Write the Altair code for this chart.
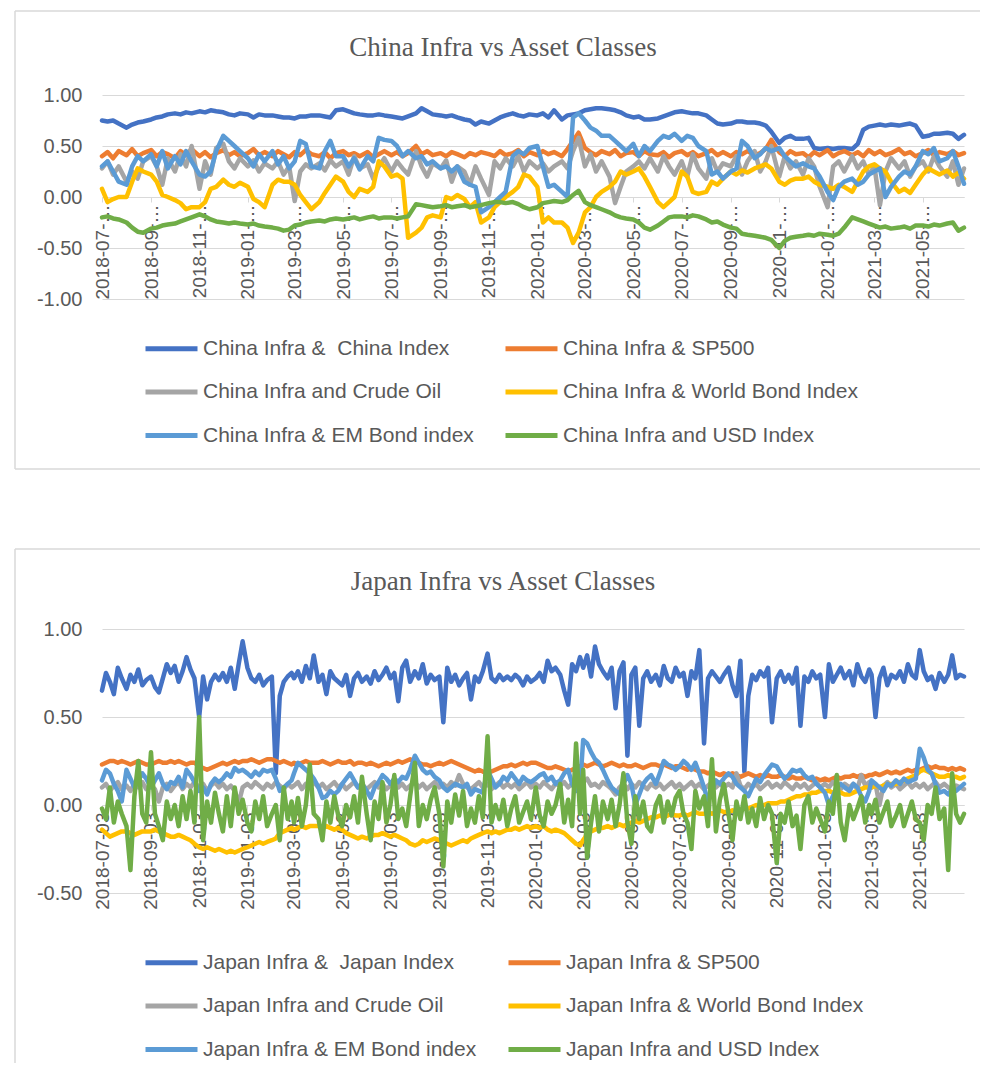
import altair as alt
import pandas as pd

# ---------------------------------------------------------------- categories
MONTHS = [(2018 + (6 + i) // 12, (6 + i) % 12 + 1) for i in range(36)]  # 2018-07 .. 2021-06
CHINA_DAYS = [3, 10, 17, 24]
JAPAN_DAYS = [3, 8, 13, 18, 23, 28]

CHINA_NAMES = ["China Infra &\u00a0 China Index", "China Infra & SP500", "China Infra and Crude Oil",
               "China Infra & World Bond Index", "China Infra & EM Bond index", "China Infra and USD Index"]
JAPAN_NAMES = ["Japan Infra &\u00a0 Japan Index", "Japan Infra & SP500", "Japan Infra and Crude Oil",
               "Japan Infra & World Bond Index", "Japan Infra & EM Bond index", "Japan Infra and USD Index"]
COLORS = ["#4472C4", "#ED7D31", "#A5A5A5", "#FFC000", "#5B9BD5", "#70AD47"]

# ---------------------------------------------------------------- China series (4 per month)
C_INDEX = [
    0.75, 0.74, 0.75, 0.72,  0.68, 0.71, 0.73, 0.74,  0.76, 0.78, 0.79, 0.81,
    0.82, 0.81, 0.83, 0.82,  0.84, 0.83, 0.85, 0.84,  0.83, 0.81, 0.80, 0.82,
    0.81, 0.78, 0.81, 0.80,  0.80, 0.79, 0.78, 0.78,  0.77, 0.79, 0.79, 0.80,
    0.80, 0.79, 0.78, 0.85,  0.86, 0.84, 0.82, 0.81,  0.80, 0.80, 0.81, 0.80,
    0.79, 0.78, 0.77, 0.79,  0.82, 0.87, 0.84, 0.81,  0.80, 0.79, 0.80, 0.78,
    0.76, 0.75, 0.71, 0.74,  0.72, 0.75, 0.78, 0.80,  0.82, 0.80, 0.79, 0.81,
    0.80, 0.82, 0.78, 0.85,  0.76, 0.80, 0.81, 0.82,  0.85, 0.86, 0.87, 0.87,
    0.86, 0.85, 0.83, 0.80,  0.78, 0.79, 0.76, 0.76,  0.77, 0.79, 0.81, 0.83,
    0.84, 0.83, 0.82, 0.82,  0.80, 0.76, 0.72, 0.71,  0.72, 0.74, 0.74, 0.73,
    0.73, 0.72, 0.70, 0.64,  0.53, 0.58, 0.60, 0.57,  0.57, 0.58, 0.48, 0.47,
    0.48, 0.47, 0.48, 0.48,  0.47, 0.52, 0.66, 0.69,  0.70, 0.71, 0.70, 0.71,
    0.70, 0.71, 0.72, 0.70,  0.59, 0.60, 0.62, 0.62,  0.63, 0.62, 0.57, 0.61,
]
C_SP500 = [
    0.40, 0.44, 0.38, 0.45,  0.41, 0.47, 0.40, 0.43,  0.46, 0.40, 0.44, 0.42,
    0.38, 0.45, 0.41, 0.47,  0.40, 0.44, 0.39, 0.43,  0.46, 0.41, 0.44, 0.40,
    0.43, 0.47, 0.41, 0.44,  0.40, 0.45, 0.42, 0.39,  0.44, 0.41, 0.46, 0.42,
    0.40, 0.44, 0.38, 0.43,  0.45, 0.41, 0.43, 0.40,  0.44, 0.39, 0.42, 0.45,
    0.41, 0.44, 0.40, 0.43,  0.50, 0.42, 0.45, 0.41,  0.43, 0.40, 0.44, 0.42,
    0.39, 0.43, 0.41, 0.44,  0.42, 0.40, 0.45, 0.41,  0.43, 0.46, 0.40, 0.44,
    0.41, 0.45, 0.42, 0.44,  0.40, 0.47, 0.55, 0.63,  0.48, 0.44, 0.41, 0.45,
    0.42, 0.46, 0.40, 0.43,  0.44, 0.40, 0.45, 0.42,  0.41, 0.44, 0.39, 0.43,
    0.45, 0.41, 0.44, 0.40,  0.43, 0.46, 0.41, 0.44,  0.40, 0.44, 0.42, 0.45,
    0.41, 0.43, 0.47, 0.56,  0.44, 0.40, 0.45, 0.42,  0.43, 0.39, 0.44, 0.41,
    0.46, 0.40, 0.43, 0.45,  0.41, 0.44, 0.40, 0.46,  0.42, 0.45, 0.41, 0.43,
    0.47, 0.42, 0.44, 0.40,  0.43, 0.46, 0.41, 0.44,  0.42, 0.45, 0.41, 0.43,
]
C_OIL = [
    0.28, 0.35, 0.22, 0.30,  0.15, 0.25, 0.18, 0.35,  0.40, 0.30, 0.12, 0.38,
    0.25, 0.42, 0.30, 0.50,  0.08, 0.35, 0.22, 0.48,  0.52, 0.35, 0.28, 0.38,
    0.30, 0.36, 0.25, 0.33,  0.28, 0.35, 0.22, 0.30, -0.04, 0.25, 0.32, 0.28,
    0.33, 0.26, 0.36, 0.30,  0.35, 0.22, 0.40, 0.28,  0.32, 0.18, 0.30, 0.38,
    0.25, 0.35, 0.28, 0.22,  0.45, 0.30, 0.20, 0.33,  0.28, 0.36, 0.15, 0.30,
    0.25, 0.12, 0.30, 0.18,  0.02, 0.35, 0.28, 0.38,  0.30, 0.40, 0.25, 0.35,
    0.28, 0.33, 0.25, 0.30,  0.35, 0.28, 0.45, 0.58,  0.30, 0.42, 0.25, 0.35,
    0.20, -0.06, 0.10, 0.25, 0.30, 0.35, 0.28, 0.38,  0.25, 0.40, 0.30, 0.22,
    0.35, 0.20, 0.42, 0.28,  0.18, 0.38, 0.25, 0.33,  0.30, 0.40, 0.22, 0.35,
    0.45, 0.25, 0.35, 0.50,  0.20, 0.40, 0.28, 0.35,  0.22, 0.38, 0.30, 0.10,
   -0.10, 0.30, 0.35, 0.25,  0.40, 0.28, 0.35, 0.22,  0.30, -0.08, 0.25, 0.38,
    0.28, 0.35, 0.20, 0.30,  0.35, 0.25, 0.40, 0.30,  0.20, 0.35, 0.12, 0.28,
]
C_BOND = [
    0.08, -0.05, -0.02, 0.00,  0.00, 0.15, 0.28, 0.25,  0.22, 0.15, 0.02, 0.00,
   -0.03, -0.06, -0.12, -0.10, -0.10, -0.05, 0.08, 0.10, 0.17, 0.12, 0.10, 0.14,
    0.10, -0.02, -0.05, -0.10, 0.12, 0.17, 0.15, 0.15,  0.12, 0.02, -0.05, -0.12,
   -0.05, 0.04, 0.12, 0.20,  0.15, 0.05, 0.00, 0.08,  0.05, 0.10, 0.35, 0.30,
    0.20, 0.22, 0.18, -0.40, -0.35, -0.30, -0.20, -0.18, -0.20, 0.00, -0.02, 0.02,
   -0.02, -0.10, -0.05, -0.25, -0.20, -0.10, -0.05, 0.00, 0.05, 0.10, 0.22, 0.20,
    0.10, -0.25, -0.20, -0.25, -0.25, -0.30, -0.45, -0.35, -0.15, -0.10, 0.00, 0.05,
    0.10, 0.15, 0.25, 0.22,  0.25, 0.28, 0.20, 0.10, -0.05, -0.10, -0.05, 0.00,
    0.25, 0.20, 0.05, 0.03,  0.05, 0.15, 0.12, 0.18,  0.25, 0.22, 0.26, 0.24,
    0.28, 0.30, 0.32, 0.28,  0.15, 0.12, 0.16, 0.18,  0.18, 0.20, 0.15, 0.12,
    0.10, 0.08, 0.12, 0.10,  0.05, 0.15, 0.25, 0.30,  0.32, 0.28, 0.25, 0.15,
    0.05, 0.08, 0.04, 0.12,  0.22, 0.28, 0.25, 0.22,  0.26, 0.20, 0.24, 0.18,
]
C_EM = [
    0.30, 0.35, 0.25, 0.15,  0.12, 0.30, 0.40, 0.35,  0.42, 0.30, 0.45, 0.28,
    0.40, 0.32, 0.45, 0.35,  0.22, 0.20, 0.25, 0.45,  0.60, 0.55, 0.50, 0.45,
    0.38, 0.30, 0.42, 0.35,  0.45, 0.32, 0.40, 0.28,  0.35, 0.55, 0.52, 0.30,
    0.28, 0.45, 0.55, 0.40,  0.40, 0.30, 0.38, 0.27,  0.40, 0.35, 0.58, 0.56,
    0.55, 0.50, 0.40, 0.45,  0.38, 0.40, 0.32, 0.35,  0.28, 0.30, 0.25, 0.30,
    0.15, 0.12, 0.10, -0.15, -0.10, -0.05, 0.00, 0.05, 0.40, 0.45, 0.42, 0.48,
    0.50, 0.30, 0.10, 0.12,  0.05, 0.00, 0.78, 0.82,  0.75, 0.68, 0.65, 0.60,
    0.60, 0.55, 0.50, 0.45,  0.52, 0.40, 0.50, 0.45,  0.55, 0.60, 0.58, 0.62,
    0.55, 0.60, 0.58, 0.50,  0.45, 0.22, 0.25, 0.18,  0.25, 0.28, 0.55, 0.50,
    0.38, 0.42, 0.48, 0.45,  0.48, 0.40, 0.35, 0.30,  0.33, 0.30, 0.28, 0.20,
    0.05, -0.03, 0.10, 0.15, 0.18, 0.12, 0.15, 0.22,  0.25, 0.28, 0.00, 0.10,
    0.20, 0.25, 0.22, 0.30,  0.45, 0.42, 0.48, 0.35,  0.38, 0.45, 0.30, 0.13,
]
C_USD = [
   -0.20, -0.19, -0.21, -0.22, -0.25, -0.30, -0.34, -0.35, -0.31, -0.30, -0.28, -0.27,
   -0.26, -0.24, -0.22, -0.20, -0.17, -0.19, -0.22, -0.24, -0.25, -0.26, -0.25, -0.26,
   -0.27, -0.26, -0.28, -0.29, -0.30, -0.31, -0.33, -0.32, -0.28, -0.27, -0.25, -0.24,
   -0.23, -0.24, -0.22, -0.21, -0.22, -0.21, -0.20, -0.22, -0.20, -0.19, -0.21, -0.20,
   -0.20, -0.21, -0.20, -0.19, -0.07, -0.08, -0.09, -0.10, -0.09, -0.08, -0.10, -0.09,
   -0.08, -0.10, -0.09, -0.08, -0.06, -0.05, -0.05, -0.06, -0.05, -0.07, -0.10, -0.12,
   -0.10, -0.06, -0.05, -0.04, -0.05, -0.03, 0.02, 0.06,  -0.05, -0.08, -0.10, -0.12,
   -0.15, -0.18, -0.20, -0.21, -0.22, -0.25, -0.30, -0.32, -0.28, -0.24, -0.20, -0.19,
   -0.19, -0.20, -0.18, -0.19, -0.22, -0.25, -0.24, -0.27, -0.30, -0.31, -0.36, -0.37,
   -0.38, -0.39, -0.40, -0.42, -0.50, -0.43, -0.40, -0.39, -0.38, -0.37, -0.38, -0.36,
   -0.37, -0.38, -0.36, -0.30, -0.20, -0.22, -0.24, -0.26, -0.28, -0.30, -0.29, -0.31,
   -0.30, -0.29, -0.31, -0.28, -0.28, -0.29, -0.27, -0.28, -0.26, -0.25, -0.33, -0.30,
]

# ---------------------------------------------------------------- Japan series (6 per month)
J_INDEX = [
    0.65, 0.75, 0.70, 0.63, 0.78, 0.72,  0.66, 0.74, 0.70, 0.77, 0.68, 0.71,
    0.73, 0.67, 0.64, 0.72, 0.80, 0.75,  0.79, 0.70, 0.76, 0.84, 0.77, 0.72,
    0.50, 0.73, 0.60, 0.70, 0.74, 0.71,  0.75, 0.70, 0.78, 0.66, 0.80, 0.93,
    0.78, 0.72, 0.70, 0.74, 0.68, 0.71,  0.73, 0.18, 0.62, 0.70, 0.73, 0.75,
    0.72, 0.76, 0.70, 0.79, 0.72, 0.85,  0.70, 0.74, 0.63, 0.76, 0.72, 0.70,
    0.68, 0.74, 0.62, 0.72, 0.75, 0.70,  0.73, 0.69, 0.76, 0.71, 0.74, 0.78,
    0.72, 0.75, 0.59, 0.78, 0.82, 0.70,  0.76, 0.72, 0.80, 0.69, 0.74, 0.71,
    0.73, 0.47, 0.78, 0.70, 0.74, 0.68,  0.72, 0.75, 0.60, 0.73, 0.70, 0.76,
    0.86, 0.72, 0.70, 0.74, 0.71, 0.73,  0.71, 0.74, 0.72, 0.68, 0.73, 0.70,
    0.72, 0.75, 0.70, 0.82, 0.76, 0.78,  0.74, 0.65, 0.57, 0.80, 0.76, 0.84,
    0.78, 0.85, 0.73, 0.90, 0.80, 0.76,  0.72, 0.78, 0.55, 0.76, 0.81, 0.28,
    0.74, 0.78, 0.45, 0.72, 0.76, 0.70,  0.74, 0.68, 0.79, 0.72, 0.70, 0.78,
    0.73, 0.75, 0.62, 0.76, 0.72, 0.88,  0.35, 0.72, 0.76, 0.73, 0.70, 0.74,
    0.78, 0.68, 0.62, 0.82, 0.19, 0.62,  0.74, 0.71, 0.76, 0.73, 0.78, 0.47,
    0.72, 0.76, 0.70, 0.74, 0.69, 0.78,  0.45, 0.73, 0.70, 0.76, 0.72, 0.74,
    0.50, 0.80, 0.70, 0.74, 0.78, 0.72,  0.76, 0.68, 0.80, 0.73, 0.70, 0.77,
    0.74, 0.50, 0.72, 0.78, 0.68, 0.74,  0.72, 0.76, 0.70, 0.80, 0.74, 0.72,
    0.88, 0.76, 0.71, 0.73, 0.66, 0.75,  0.70, 0.74, 0.85, 0.72, 0.74, 0.73,
]
J_SP500 = [
    0.23, 0.24, 0.25, 0.25, 0.24, 0.25,  0.24, 0.23, 0.24, 0.25, 0.24, 0.23,
    0.23, 0.24, 0.25, 0.24, 0.24, 0.25,  0.24, 0.25, 0.24, 0.23, 0.24, 0.24,
    0.22, 0.21, 0.20, 0.21, 0.22, 0.23,  0.24, 0.23, 0.24, 0.25, 0.24, 0.25,
    0.25, 0.26, 0.25, 0.24, 0.25, 0.26,  0.26, 0.25, 0.24, 0.25, 0.24, 0.23,
    0.24, 0.23, 0.24, 0.25, 0.24, 0.24,  0.24, 0.25, 0.24, 0.23, 0.24, 0.25,
    0.24, 0.24, 0.25, 0.23, 0.24, 0.24,  0.23, 0.24, 0.23, 0.22, 0.23, 0.24,
    0.23, 0.24, 0.25, 0.24, 0.25, 0.26,  0.25, 0.24, 0.23, 0.23, 0.22, 0.23,
    0.24, 0.23, 0.24, 0.25, 0.24, 0.23,  0.22, 0.21, 0.20, 0.19, 0.20, 0.19,
    0.18, 0.19, 0.20, 0.21, 0.22, 0.22,  0.23, 0.22, 0.23, 0.24, 0.23, 0.24,
    0.24, 0.23, 0.22, 0.21, 0.21, 0.22,  0.21, 0.20, 0.19, 0.20, 0.21, 0.22,
    0.23, 0.22, 0.23, 0.24, 0.23, 0.22,  0.23, 0.24, 0.23, 0.22, 0.23, 0.22,
    0.22, 0.23, 0.22, 0.21, 0.22, 0.23,  0.23, 0.22, 0.23, 0.22, 0.21, 0.22,
    0.22, 0.21, 0.20, 0.21, 0.20, 0.19,  0.19, 0.18, 0.19, 0.18, 0.17, 0.18,
    0.17, 0.18, 0.17, 0.16, 0.17, 0.18,  0.17, 0.16, 0.17, 0.16, 0.17, 0.16,
    0.16, 0.17, 0.16, 0.15, 0.16, 0.15,  0.15, 0.16, 0.15, 0.14, 0.15, 0.14,
    0.15, 0.14, 0.15, 0.16, 0.15, 0.16,  0.16, 0.17, 0.16, 0.17, 0.16, 0.17,
    0.17, 0.18, 0.17, 0.18, 0.19, 0.18,  0.19, 0.18, 0.19, 0.20, 0.19, 0.20,
    0.20, 0.21, 0.22, 0.21, 0.22, 0.21,  0.21, 0.20, 0.21, 0.20, 0.21, 0.20,
]
J_OIL = [
    0.10, 0.12, 0.08, 0.11, 0.13, 0.09,  0.11, 0.08, 0.12, 0.10, 0.13, 0.09,
    0.11, 0.09, 0.02, 0.10, 0.12, 0.08,  0.11, 0.13, 0.09, 0.12, 0.10, 0.13,
    0.10, 0.12, 0.08, 0.11, 0.13, 0.10,  0.12, 0.09, 0.11, 0.08, 0.01, 0.10,
    0.12, 0.10, 0.13, 0.11, 0.09, 0.12,  0.10, 0.13, 0.11, 0.09, 0.12, 0.10,
    0.11, 0.13, 0.09, 0.12, 0.10, 0.13,  0.10, 0.12, 0.09, 0.11, 0.13, 0.10,
    0.12, 0.09, 0.11, 0.13, 0.10, 0.12,  0.09, 0.11, 0.13, 0.10, 0.12, 0.09,
    0.11, 0.13, 0.10, 0.12, 0.09, 0.11,  0.13, 0.10, 0.12, 0.09, 0.11, 0.13,
    0.10, 0.12, 0.10, 0.13, 0.11, 0.17,  0.12, 0.10, 0.09, 0.11, 0.13, 0.10,
    0.12, 0.09, 0.11, 0.13, 0.10, 0.12,  0.10, 0.12, 0.09, 0.11, 0.13, 0.10,
    0.12, 0.10, 0.13, 0.11, 0.09, 0.12,  0.11, 0.13, 0.10, 0.12, 0.14, 0.11,
    0.13, 0.15, 0.11, 0.12, 0.10, 0.13,  0.11, 0.09, 0.06, 0.10, 0.12, 0.09,
    0.12, 0.10, 0.13, 0.11, 0.09, 0.12,  0.10, 0.12, 0.09, 0.11, 0.13, 0.10,
    0.12, 0.09, 0.11, 0.13, 0.10, 0.12,  0.09, 0.11, 0.13, 0.10, 0.12, 0.10,
    0.12, 0.10, 0.18, 0.11, 0.09, 0.12,  0.10, 0.12, 0.09, 0.11, 0.13, 0.10,
    0.12, 0.10, 0.13, 0.11, 0.09, 0.12,  0.10, 0.12, 0.09, 0.11, 0.13, 0.10,
    0.12, 0.10, 0.13, 0.11, 0.09, 0.12,  0.10, 0.12, 0.09, 0.17, 0.11, 0.13,
    0.10, 0.12, 0.00, 0.11, 0.13, 0.10,  0.12, 0.09, 0.11, 0.13, 0.10, 0.12,
    0.10, 0.12, 0.09, 0.11, 0.13, 0.10,  0.12, 0.10, 0.09, 0.11, 0.10, 0.09,
]
J_BOND = [
   -0.14, -0.16, -0.18, -0.17, -0.16, -0.15, -0.15, -0.16, -0.17, -0.16, -0.15, -0.15,
   -0.15, -0.14, -0.15, -0.16, -0.17, -0.18, -0.18, -0.17, -0.18, -0.19, -0.20, -0.22,
   -0.24, -0.25, -0.24, -0.25, -0.26, -0.25, -0.26, -0.27, -0.26, -0.27, -0.26, -0.25,
   -0.24, -0.23, -0.22, -0.21, -0.22, -0.21, -0.20, -0.19, -0.16, -0.15, -0.14, -0.13,
   -0.14, -0.13, -0.12, -0.13, -0.12, -0.12, -0.12, -0.13, -0.12, -0.13, -0.14, -0.13,
   -0.14, -0.16, -0.17, -0.18, -0.19, -0.18, -0.19, -0.18, -0.17, -0.17, -0.16, -0.17,
   -0.18, -0.17, -0.18, -0.19, -0.20, -0.22, -0.23, -0.22, -0.20, -0.21, -0.20, -0.19,
   -0.20, -0.21, -0.22, -0.23, -0.22, -0.21, -0.20, -0.21, -0.19, -0.18, -0.17, -0.16,
   -0.15, -0.16, -0.15, -0.16, -0.15, -0.14, -0.14, -0.13, -0.14, -0.13, -0.12, -0.13,
   -0.12, -0.13, -0.12, -0.14, -0.15, -0.14, -0.15, -0.16, -0.18, -0.20, -0.22, -0.23,
   -0.20, -0.17, -0.15, -0.14, -0.13, -0.13, -0.12, -0.13, -0.12, -0.11, -0.12, -0.11,
   -0.10, -0.09, -0.10, -0.09, -0.08, -0.07, -0.07, -0.06, -0.07, -0.06, -0.05, -0.06,
   -0.06, -0.05, -0.06, -0.05, -0.04, -0.05, -0.05, -0.04, -0.05, -0.04, -0.03, -0.04,
   -0.04, -0.03, -0.04, -0.03, -0.02, -0.02, -0.01, 0.00, -0.01, 0.00, 0.01, 0.01,
    0.01, 0.02, 0.02, 0.03, 0.04, 0.05,  0.05, 0.06, 0.06, 0.07, 0.07, 0.08,
    0.08, 0.08, 0.07, 0.08, 0.07, 0.06,  0.06, 0.07, 0.08, 0.09, 0.10, 0.10,
    0.10, 0.11, 0.10, 0.11, 0.12, 0.12,  0.12, 0.13, 0.14, 0.15, 0.16, 0.17,
    0.19, 0.20, 0.19, 0.18, 0.17, 0.16,  0.16, 0.17, 0.16, 0.16, 0.15, 0.16,
]
J_EM = [
    0.14, 0.20, 0.18, 0.12, 0.08, 0.02,  0.20, 0.15, 0.10, 0.14, 0.18, 0.15,
    0.10, 0.14, 0.18, 0.12, 0.09, 0.13,  0.12, 0.16, 0.10, 0.20, 0.17, 0.13,
    0.08, 0.10, 0.06, 0.12, 0.15, 0.13,  0.15, 0.18, 0.16, 0.21, 0.19, 0.20,
    0.18, 0.16, 0.19, 0.17, 0.20, 0.19,  0.20, 0.15, 0.08, 0.10, 0.12, 0.14,
    0.18, 0.24, 0.22, 0.20, 0.18, 0.15,  0.10, 0.04, 0.05, 0.08, 0.06, 0.08,
    0.12, 0.15, 0.18, 0.14, 0.10, 0.12,  0.08, 0.04, 0.10, 0.13, 0.17, 0.15,
    0.12, 0.15, 0.13, 0.16, 0.15, 0.20,  0.28, 0.24, 0.20, 0.18, 0.19, 0.16,
    0.14, 0.10, 0.08, 0.10, 0.12, 0.11,  0.10, 0.12, 0.06, 0.09, 0.08, 0.07,
    0.20, 0.15, 0.10, 0.12, 0.16, 0.14,  0.18, 0.15, 0.12, 0.16, 0.14, 0.13,
    0.15, 0.17, 0.18, 0.14, 0.16, 0.12,  0.14, 0.18, 0.20, 0.12, 0.08, 0.10,
    0.37, 0.35, 0.30, 0.26, 0.24, 0.20,  0.14, 0.10, 0.08, 0.06, 0.12, 0.17,
    0.12, 0.00, 0.06, 0.12, 0.15, 0.17,  0.12, 0.18, 0.25, 0.23, 0.22, 0.20,
    0.22, 0.25, 0.23, 0.20, 0.24, 0.18,  0.10, 0.02, 0.08, 0.14, 0.12, 0.15,
    0.18, 0.16, 0.12, 0.10, 0.08, 0.05,  0.10, 0.15, 0.13, 0.17, 0.20, 0.23,
    0.22, 0.18, 0.15, 0.17, 0.20, 0.19,  0.20, 0.17, 0.15, 0.16, 0.12, 0.10,
    0.07, 0.00, 0.05, 0.10, 0.12, 0.10,  0.08, 0.12, 0.10, 0.05, 0.02, 0.08,
    0.14, 0.12, 0.10, 0.08, 0.12, 0.11,  0.14, 0.12, 0.15, 0.13, 0.14, 0.15,
    0.32, 0.27, 0.20, 0.18, 0.12, 0.07,  0.08, 0.06, 0.09, 0.08, 0.10, 0.12,
]
J_USD = [
   -0.02, -0.08, 0.10, -0.10, 0.02, -0.05,  -0.12, -0.37, 0.05, 0.25, -0.05, -0.10,
    0.30, -0.05, -0.12, -0.20, 0.02, -0.08,   0.00, -0.12, 0.05, -0.08, 0.08, -0.10,
    0.50, -0.20, 0.02, -0.10, 0.07, -0.05,  -0.15, 0.05, -0.12, 0.10, -0.05, 0.03,
   -0.10, -0.15, 0.02, -0.08, 0.05, -0.12,  -0.05, 0.00, -0.20, 0.10, -0.08, 0.02,
   -0.10, 0.04, -0.12, 0.00, 0.23, -0.05,  -0.08, -0.20, 0.02, -0.10, 0.05, -0.06,
   -0.12, 0.00, -0.07, 0.05, -0.10, 0.16,  -0.05, -0.20, 0.02, -0.08, 0.13, -0.10,
    0.00, 0.17, -0.08, -0.02, -0.12, 0.05,   0.24, -0.12, 0.00, -0.08, 0.03, 0.10,
   -0.05, -0.35, 0.02, -0.10, 0.06, -0.06,   0.08, -0.12, -0.02, -0.10, 0.05, -0.07,
    0.39, -0.10, 0.00, -0.08, 0.03, -0.12,  -0.02, 0.05, -0.10, -0.04, 0.02, -0.08,
    0.10, -0.06, -0.12, 0.02, -0.05, 0.00,   0.12, -0.10, 0.03, -0.12, 0.35, -0.05,
    0.20, -0.30, -0.10, 0.05, -0.15, 0.02,  -0.08, 0.03, -0.12, 0.00, 0.18, -0.10,
   -0.22, 0.05, -0.08, 0.02, -0.12, -0.15,   0.00, 0.05, -0.10, 0.02, -0.06, 0.04,
    0.08, -0.05, -0.10, -0.25, 0.08, -0.02,   0.05, -0.12, 0.26, -0.15, 0.03, 0.12,
   -0.05, -0.20, 0.02, -0.08, 0.05, -0.10,  -0.02, -0.12, 0.04, -0.08, 0.00, -0.05,
   -0.33, -0.05, -0.10, 0.02, -0.12, -0.06,  -0.25, 0.00, 0.05, -0.10, -0.02, -0.08,
   -0.15, 0.02, -0.05, 0.17, -0.10, -0.20,   0.00, -0.08, -0.02, 0.05, -0.10, 0.00,
   -0.05, 0.03, -0.10, -0.04, 0.02, -0.12,  -0.06, 0.00, -0.12, -0.05, 0.02, -0.08,
   -0.10, -0.20, 0.00, -0.05, 0.10, -0.08,  -0.02, -0.37, 0.18, -0.05, -0.10, -0.05,
]

# ---------------------------------------------------------------- styling
SANS = "Liberation Sans, Arial, sans-serif"
SERIF = "Liberation Serif, Times New Roman, serif"
TEXT = "#595959"
GRID = "#D9D9D9"
W = 862


def panel(title, names, series, days, y_domain, y_ticks, height, label_expr,
          legend_y, border_top, border_bottom, closed):
    dates = [f"{y}-{m:02d}-{d:02d}" for (y, m) in MONTHS for d in days]
    rows = []
    for name, vals in zip(names, series):
        assert len(vals) == len(dates), (name, len(vals), len(dates))
        rows += [{"date": dt, "value": v, "series": name} for dt, v in zip(dates, vals)]
    df = pd.DataFrame(rows)

    zero_offset = -height * (0 - y_domain[0]) / (y_domain[1] - y_domain[0])
    start = alt.DateTime(year=2018, month=7, date=days[0], utc=True)
    end = alt.DateTime(year=2021, month=6, date=days[-1], utc=True)
    tick_vals = [alt.DateTime(year=y, month=m, date=3, utc=True) for (y, m) in MONTHS[::2]]

    x = alt.X("date:T", title=None,
              scale=alt.Scale(type="utc", domain=[start, end]),
              axis=alt.Axis(values=tick_vals, labelExpr=label_expr, labelAngle=270,
                            offset=zero_offset, grid=False, domainColor=GRID, domainWidth=1,
                            tickColor=GRID, tickSize=5, tickWidth=1, labelFontSize=19,
                            labelFont=SANS, labelColor=TEXT, labelPadding=2,
                            labelOverlap=False, labelFlush=False, labelBound=False))
    y = alt.Y("value:Q", title=None,
              scale=alt.Scale(domain=y_domain, nice=False, zero=False),
              axis=alt.Axis(values=y_ticks,
                            labelExpr="datum.value < 0 ? '-' + format(-datum.value, '.2f') : format(datum.value, '.2f')",
                            domain=False, ticks=False, grid=True, gridColor=GRID, gridWidth=1,
                            labelFontSize=20, labelFont=SANS, labelColor=TEXT, labelPadding=20))
    color = alt.Color("series:N",
                      scale=alt.Scale(domain=names, range=COLORS),
                      legend=alt.Legend(orient="none", legendX=41, legendY=legend_y, columns=2,
                                        direction="horizontal",
                                        title=None, symbolType="stroke", symbolStrokeWidth=5,
                                        symbolSize=2704, labelFontSize=21, labelFont=SANS,
                                        labelColor=TEXT, labelLimit=500, labelOffset=3,
                                        columnPadding=21, rowPadding=4.5, padding=0))

    one = pd.DataFrame({"k": [0]})
    frame_style = dict(color=GRID, strokeWidth=1.5)
    layers = [
        alt.Chart(one).mark_rule(**frame_style).encode(
            x=alt.value(-87), x2=alt.value(878), y=alt.value(border_top)),
        alt.Chart(one).mark_rule(**frame_style).encode(
            x=alt.value(-87), y=alt.value(border_top), y2=alt.value(border_bottom)),
    ]
    if closed:
        layers.append(alt.Chart(one).mark_rule(**frame_style).encode(
            x=alt.value(-87), x2=alt.value(878), y=alt.value(border_bottom)))
    layers.append(alt.Chart(one).mark_text(text=title, font=SERIF, fontSize=27, color=TEXT,
                                           align="center", baseline="middle").encode(
        x=alt.value(401), y=alt.value(-47)))
    for name in names:
        layers.append(
            alt.Chart(df).transform_filter(alt.FieldEqualPredicate(field="series", equal=name))
            .mark_line(strokeWidth=4.5, strokeJoin="round", strokeCap="round")
            .encode(x=x, y=y, color=color)
        )
    return alt.layer(*layers).properties(width=W, height=height)


top = panel("China Infra vs Asset Classes", CHINA_NAMES,
            [C_INDEX, C_SP500, C_OIL, C_BOND, C_EM, C_USD], CHINA_DAYS,
            [-1.0, 1.0], [-1.0, -0.5, 0.0, 0.5, 1.0], 204,
            "utcFormat(datum.value, '%Y-%m-') + '\u2026'", 225, -84, 374, True)
bottom = panel("Japan Infra vs Asset Classes", JAPAN_NAMES,
               [J_INDEX, J_SP500, J_OIL, J_BOND, J_EM, J_USD], JAPAN_DAYS,
               [-0.5, 1.0], [-0.5, 0.0, 0.5, 1.0], 264,
               "utcFormat(datum.value, '%Y-%m-%d')", 305, -80, 434, False)

chart = (
    alt.vconcat(top, bottom, spacing=78)
    .resolve_scale(color="independent", x="independent", y="independent")
    .resolve_legend(color="independent")
    .properties(padding={"left": 6, "top": 2, "right": 0, "bottom": 0})
    .configure_view(stroke=None)
)

chart.save("out.html", embed_options={"renderer": "svg", "actions": False})
